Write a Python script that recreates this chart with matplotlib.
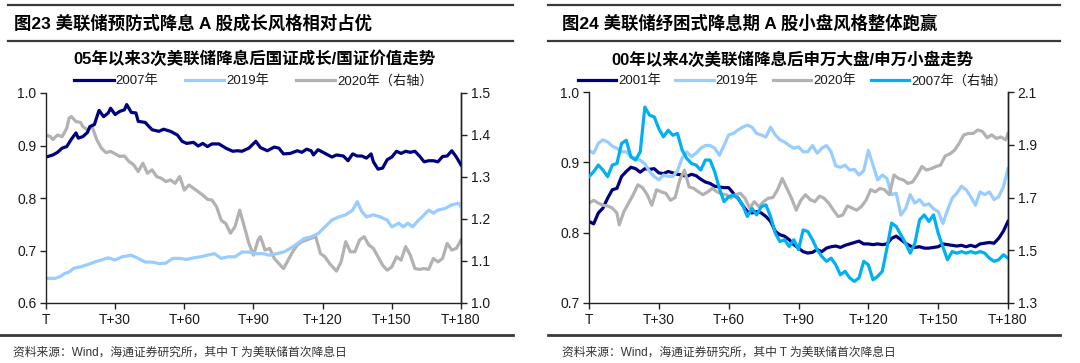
import matplotlib
matplotlib.use("Agg")
import matplotlib.pyplot as plt
from matplotlib.lines import Line2D

plt.rcParams['font.family'] = ['Liberation Sans', 'Noto Sans CJK SC', 'DejaVu Sans']

# ---------------- data: left chart (国证成长/国证价值) ----------------
l07_x = [0, 3, 5, 7, 9, 11, 13, 14, 16, 18, 19, 21, 23, 25, 27, 28, 30, 32, 34, 35, 37, 39, 40, 43, 46, 49, 51, 54, 57, 59,
         61, 64, 66, 68, 70, 72, 75, 78, 81, 83, 85, 88, 91, 93, 96, 99, 101, 103, 106, 109, 111, 113, 115, 116, 118, 121,
         124, 126, 129, 131, 133, 135, 137, 139, 141, 142, 144, 146, 148, 150, 152, 154, 156, 158, 160, 162, 164, 166, 168,
         170, 172, 174, 176, 178, 180]
l07_y = [0.878, 0.882, 0.887, 0.895, 0.898, 0.912, 0.924, 0.914, 0.917, 0.925, 0.936, 0.940, 0.967, 0.955, 0.962, 0.971,
         0.959, 0.965, 0.968, 0.978, 0.963, 0.962, 0.946, 0.944, 0.930, 0.927, 0.931, 0.927, 0.920, 0.908, 0.904, 0.906,
         0.899, 0.904, 0.898, 0.903, 0.903, 0.895, 0.889, 0.890, 0.889, 0.895, 0.908, 0.896, 0.890, 0.897, 0.895, 0.884,
         0.885, 0.890, 0.887, 0.893, 0.890, 0.882, 0.892, 0.885, 0.878, 0.882, 0.880, 0.871, 0.884, 0.880, 0.880, 0.876,
         0.884, 0.869, 0.855, 0.857, 0.873, 0.878, 0.889, 0.885, 0.889, 0.887, 0.889, 0.880, 0.869, 0.871, 0.871, 0.869,
         0.879, 0.880, 0.890, 0.878, 0.863]

l19_x = [0, 4, 6, 8, 10, 12, 15, 18, 21, 24, 27, 30, 33, 37, 40, 43, 46, 49, 52, 55, 58, 61, 64, 67, 70, 73, 76, 79, 82,
         85, 88, 91, 94, 97, 100, 103, 106, 109, 112, 115, 118, 121, 124, 127, 130, 133, 135, 137, 139, 142, 145, 148,
         150, 153, 155, 157, 159, 161, 164, 166, 168, 170, 173, 176, 179, 180]
l19_y = [0.647, 0.647, 0.650, 0.656, 0.659, 0.666, 0.669, 0.673, 0.678, 0.682, 0.686, 0.682, 0.688, 0.691, 0.685, 0.678,
         0.678, 0.675, 0.676, 0.685, 0.685, 0.683, 0.686, 0.688, 0.691, 0.694, 0.685, 0.688, 0.688, 0.697, 0.697, 0.694,
         0.694, 0.691, 0.694, 0.697, 0.704, 0.713, 0.723, 0.726, 0.732, 0.745, 0.758, 0.764, 0.768, 0.777, 0.793, 0.774,
         0.764, 0.768, 0.764, 0.758, 0.745, 0.752, 0.745, 0.752, 0.745, 0.755, 0.768, 0.777, 0.771, 0.777, 0.780, 0.787,
         0.790, 0.783]

l20_x = [0, 2, 3, 5, 7, 9, 10, 11, 13, 15, 16, 18, 20, 22, 24, 26, 28, 30, 32, 34, 36, 38, 40, 42, 44, 46, 48, 50, 52,
         54, 56, 58, 60, 62, 64, 66, 68, 70, 72, 74, 76, 78, 80, 82, 84, 86, 88, 90, 92, 93, 95, 97, 99, 101, 103, 105,
         107, 109, 111, 113, 115, 117, 119, 121, 123, 125, 126, 128, 130, 132, 134, 136, 138, 140, 142, 144, 146, 148,
         150, 152, 154, 156, 158, 160, 162, 164, 166, 168, 170, 172, 174, 176, 178, 180]
l20_y = [1.400, 1.396, 1.389, 1.400, 1.396, 1.416, 1.440, 1.444, 1.432, 1.430, 1.420, 1.412, 1.420, 1.389, 1.369, 1.358,
         1.361, 1.355, 1.349, 1.350, 1.337, 1.329, 1.313, 1.333, 1.309, 1.317, 1.301, 1.297, 1.289, 1.293, 1.285, 1.301,
         1.269, 1.281, 1.273, 1.265, 1.257, 1.247, 1.245, 1.229, 1.197, 1.189, 1.166, 1.182, 1.221, 1.182, 1.142, 1.114,
         1.150, 1.158, 1.126, 1.130, 1.106, 1.094, 1.082, 1.102, 1.122, 1.138, 1.146, 1.150, 1.154, 1.158, 1.118, 1.110,
         1.094, 1.082, 1.076, 1.098, 1.146, 1.122, 1.122, 1.150, 1.158, 1.138, 1.130, 1.110, 1.090, 1.078, 1.086, 1.110,
         1.102, 1.134, 1.114, 1.082, 1.080, 1.082, 1.080, 1.106, 1.098, 1.106, 1.142, 1.126, 1.130, 1.150]

# ---------------- data: right chart (申万大盘/申万小盘) ----------------
r_x = list(range(0, 181, 2))
r01_y = [0.816, 0.8125, 0.828, 0.835, 0.849, 0.861, 0.863, 0.880, 0.887, 0.893, 0.891, 0.886, 0.891, 0.890, 0.891, 0.885,
         0.884, 0.887, 0.885, 0.883, 0.882, 0.880, 0.883, 0.881, 0.876, 0.872, 0.870, 0.866, 0.865, 0.864, 0.864, 0.856,
         0.849, 0.839, 0.830, 0.828, 0.830, 0.828, 0.823, 0.816, 0.802, 0.797, 0.795, 0.790, 0.783, 0.778, 0.773, 0.771,
         0.772, 0.776, 0.773, 0.778, 0.780, 0.781, 0.779, 0.782, 0.784, 0.786, 0.788, 0.784, 0.784, 0.783, 0.784, 0.783,
         0.784, 0.792, 0.795, 0.790, 0.785, 0.781, 0.779, 0.780, 0.778, 0.778, 0.779, 0.780, 0.784, 0.783, 0.782, 0.781,
         0.782, 0.780, 0.782, 0.780, 0.784, 0.785, 0.786, 0.785, 0.792, 0.802, 0.816]
r19_y = [0.917, 0.913, 0.927, 0.932, 0.929, 0.923, 0.920, 0.915, 0.915, 0.908, 0.906, 0.903, 0.898, 0.887, 0.880, 0.875,
         0.882, 0.880, 0.880, 0.888, 0.906, 0.915, 0.908, 0.913, 0.920, 0.924, 0.924, 0.920, 0.910, 0.924, 0.939, 0.941,
         0.946, 0.950, 0.953, 0.950, 0.941, 0.939, 0.936, 0.950, 0.939, 0.932, 0.929, 0.924, 0.920, 0.922, 0.915, 0.915,
         0.924, 0.913, 0.920, 0.924, 0.915, 0.895, 0.893, 0.896, 0.889, 0.890, 0.882, 0.888, 0.917, 0.896, 0.875, 0.882,
         0.877, 0.854, 0.856, 0.825, 0.834, 0.854, 0.842, 0.847, 0.839, 0.841, 0.834, 0.830, 0.813, 0.832, 0.849, 0.856,
         0.866, 0.861, 0.851, 0.839, 0.858, 0.854, 0.858, 0.847, 0.851, 0.865, 0.891]
r20_x = [0, 2, 4, 6, 8, 10, 12, 13, 15, 17, 19, 21, 23, 25, 27, 29, 31, 33, 35, 37, 39, 41, 43, 45, 47, 49, 51, 53, 55,
         57, 59, 61, 63, 65, 67, 69, 71, 73, 75, 77, 79, 81, 83, 85, 87, 89, 91, 93, 95, 97, 99, 101, 103, 105, 107, 109,
         111, 113, 115, 117, 119, 121, 123, 125, 127, 129, 131, 133, 135, 137, 139, 141, 143, 145, 147, 149, 151, 153,
         155, 157, 159, 161, 163, 165, 167, 169, 171, 173, 175, 177, 179, 180]
r20_y = [0.842, 0.846, 0.842, 0.839, 0.838, 0.835, 0.828, 0.811, 0.830, 0.842, 0.854, 0.868, 0.864, 0.854, 0.839, 0.861,
         0.858, 0.856, 0.846, 0.850, 0.875, 0.889, 0.865, 0.863, 0.858, 0.854, 0.858, 0.863, 0.858, 0.855, 0.854, 0.849,
         0.854, 0.856, 0.849, 0.835, 0.844, 0.837, 0.844, 0.849, 0.850, 0.861, 0.877, 0.863, 0.849, 0.832, 0.846, 0.854,
         0.847, 0.844, 0.852, 0.849, 0.842, 0.832, 0.823, 0.825, 0.838, 0.835, 0.832, 0.837, 0.846, 0.861, 0.858, 0.863,
         0.861, 0.854, 0.882, 0.877, 0.875, 0.870, 0.872, 0.882, 0.894, 0.889, 0.891, 0.894, 0.896, 0.909, 0.912, 0.917,
         0.927, 0.939, 0.941, 0.941, 0.946, 0.944, 0.935, 0.939, 0.934, 0.936, 0.932, 0.941]
r07_y = [1.779, 1.798, 1.823, 1.804, 1.779, 1.823, 1.829, 1.905, 1.917, 1.854, 1.842, 1.873, 2.043, 2.012, 2.006, 1.961,
         1.930, 1.955, 1.936, 1.943, 1.880, 1.848, 1.829, 1.823, 1.804, 1.842, 1.842, 1.798, 1.735, 1.684, 1.703, 1.709,
         1.697, 1.672, 1.628, 1.659, 1.634, 1.665, 1.672, 1.628, 1.565, 1.533, 1.540, 1.514, 1.540, 1.502, 1.577, 1.571,
         1.540, 1.502, 1.477, 1.458, 1.470, 1.445, 1.407, 1.420, 1.395, 1.382, 1.395, 1.458, 1.445, 1.388, 1.401, 1.420,
         1.508, 1.603, 1.590, 1.558, 1.527, 1.489, 1.527, 1.615, 1.634, 1.609, 1.634, 1.565, 1.514, 1.464, 1.495, 1.489,
         1.495, 1.489, 1.495, 1.489, 1.495, 1.489, 1.470, 1.458, 1.464, 1.483, 1.470]

x_ticks = [0, 30, 60, 90, 120, 150, 180]
x_labels = ["T", "T+30", "T+60", "T+90", "T+120", "T+150", "T+180"]

titles = ["图23 美联储预防式降息 A 股成长风格相对占优", "图24 美联储纾困式降息期 A 股小盘风格整体跑赢"]
subtitles = ["05年以来3次美联储降息后国证成长/国证价值走势", "00年以来4次美联储降息后申万大盘/申万小盘走势"]
source = "资料来源：Wind，海通证券研究所，其中 T 为美联储首次降息日"

NAVY = "#00007F"
LBLUE = "#99CCFF"
GREY = "#B2B2B2"
CYAN = "#00B0F0"
LW = 2.3
TXT = "#1a1a1a"

W, H = 1080, 363
fig = plt.figure(figsize=(W / 100, H / 100), dpi=100)


def rect(x0, y0, x1, y1):
    return [x0 / W, 1 - y1 / H, (x1 - x0) / W, (y1 - y0) / H]


def hline(x0, x1, y, lw=1.6):
    fig.add_artist(Line2D([x0 / W, x1 / W], [1 - y / H, 1 - y / H], color="#3a3a3a", lw=lw))


def style(ax, ax2, ylim, yticks, ylim2, yticks2):
    ax.set_xlim(0, 180)
    ax.set_ylim(*ylim)
    ax.set_yticks(yticks)
    ax.set_yticklabels([f"{v:.1f}" for v in yticks])
    ax.set_xticks(x_ticks)
    ax.set_xticklabels(x_labels)
    ax2.set_ylim(*ylim2)
    ax2.set_yticks(yticks2)
    ax2.set_yticklabels([f"{v:.1f}" for v in yticks2])
    for a in (ax, ax2):
        a.spines["top"].set_visible(False)
        for s in ("left", "right", "bottom"):
            a.spines[s].set_color("#222222")
            a.spines[s].set_linewidth(1.0)
        a.tick_params(direction="out", length=4, width=1.0, color="#222222",
                      labelsize=10, labelcolor=TXT, pad=3)
        a.patch.set_visible(False)
    ax2.spines["left"].set_visible(False)
    ax2.spines["bottom"].set_visible(False)


# ---------------- left panel ----------------
hline(8, 513, 5)
hline(8, 513, 41)
hline(0, 513, 335, lw=2.0)
fig.text(14 / W, 1 - 23 / H, titles[0], fontsize=12.5, fontweight="bold", va="center", ha="left", color="black")

axL = fig.add_axes(rect(46, 93, 461, 303))
axL2 = axL.twinx()
h1, = axL.plot(l07_x, l07_y, color=NAVY, lw=LW, label="2007年")
h2, = axL.plot(l19_x, l19_y, color=LBLUE, lw=LW, label="2019年")
h3, = axL2.plot(l20_x, l20_y, color=GREY, lw=LW, label="2020年（右轴）")
style(axL, axL2, (0.6, 1.0), [0.6, 0.7, 0.8, 0.9, 1.0], (1.0, 1.5), [1.0, 1.1, 1.2, 1.3, 1.4, 1.5])
axL.set_zorder(axL2.get_zorder() + 1)
fig.text(255 / W, 1 - 59 / H, subtitles[0], fontsize=11.9, fontweight="bold", ha="center", va="center", color="black")
axL.legend(handles=[h1, h2, h3], loc="center", bbox_to_anchor=(0.5, 1 + 12 / 210), ncol=3, frameon=False,
           fontsize=9.5, handlelength=3.0, handletextpad=0.15, columnspacing=2.0, borderaxespad=0,
           labelcolor=TXT)
fig.text(13 / W, 1 - 353 / H, source, fontsize=8.5, ha="left", va="center", color="#333333")

# ---------------- right panel ----------------
hline(548, 1060, 5)
hline(548, 1060, 41)
hline(548, 1060, 335, lw=2.0)
fig.text(562 / W, 1 - 23 / H, titles[1], fontsize=12.5, fontweight="bold", va="center", ha="left", color="black")

axR = fig.add_axes(rect(589, 92, 1008, 303))
axR2 = axR.twinx()
g1, = axR.plot(r_x, r01_y, color=NAVY, lw=LW, label="2001年")
g2, = axR.plot(r_x, r19_y, color=LBLUE, lw=LW, label="2019年")
g3, = axR.plot(r20_x, r20_y, color=GREY, lw=LW, label="2020年")
g4, = axR2.plot(r_x, r07_y, color=CYAN, lw=LW, label="2007年（右轴）")
style(axR, axR2, (0.7, 1.0), [0.7, 0.8, 0.9, 1.0], (1.3, 2.1), [1.3, 1.5, 1.7, 1.9, 2.1])
fig.text(792 / W, 1 - 60 / H, subtitles[1], fontsize=11.9, fontweight="bold", ha="center", va="center", color="black")
axR2.legend(handles=[g1, g2, g3, g4], loc="center", bbox_to_anchor=(0.485, 1 + 11 / 211), ncol=4, frameon=False,
            fontsize=9.5, handlelength=2.9, handletextpad=0.15, columnspacing=1.1, borderaxespad=0,
            labelcolor=TXT)
fig.text(562 / W, 1 - 353 / H, source, fontsize=8.5, ha="left", va="center", color="#333333")

fig.savefig("out.png", dpi=100)
